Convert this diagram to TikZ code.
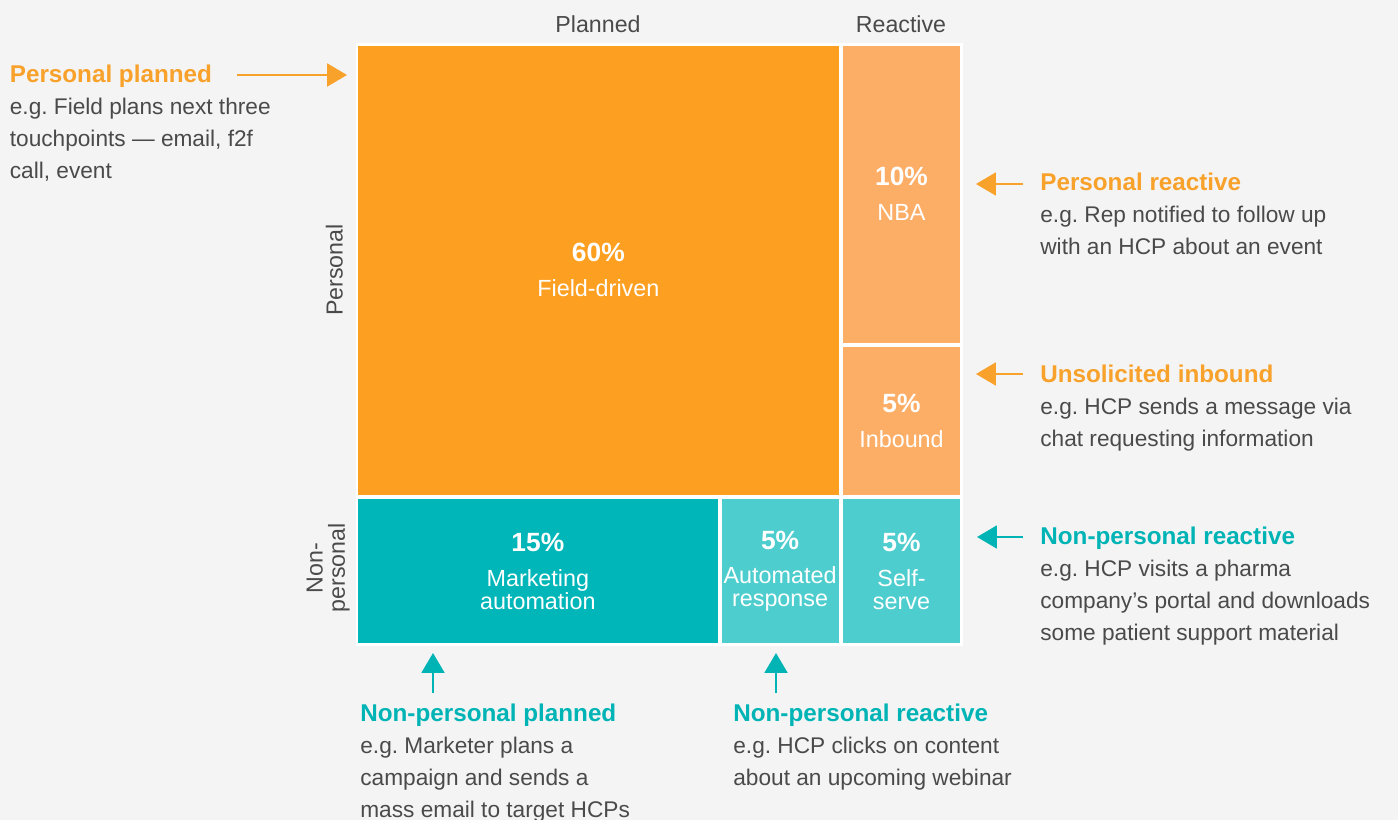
\documentclass[tikz,border=0pt]{standalone}
\usepackage{fontspec}
\setmainfont{Liberation Sans}
\usetikzlibrary{arrows.meta}
\frenchspacing
\definecolor{bg}{HTML}{F4F4F4}
\definecolor{orA}{HTML}{FDA021}
\definecolor{orB}{HTML}{FDAE66}
\definecolor{tlA}{HTML}{00B6B8}
\definecolor{tlB}{HTML}{4ECDCE}
\definecolor{orT}{HTML}{F8A12B}
\definecolor{tlT}{HTML}{00B4B6}
\definecolor{txt}{HTML}{4A4A4A}
\newcommand{\hd}[2]{{\fontsize{13.8}{18.14}\selectfont\bfseries\color{#1}#2}}
\newcommand{\pct}[1]{{\fontsize{15}{13}\selectfont\bfseries #1}}
\begin{document}
\begin{tikzpicture}[x=0.02cm, y=-0.02cm]
\tikzset{
  cell/.style={inner sep=0, text=white, align=center, font=\fontsize{13.3}{13}\selectfont},
  note/.style={inner sep=0, anchor=north west, align=left, text=txt, font=\fontsize{12.9}{18.14}\selectfont},
  axis/.style={inner sep=0, text=txt, font=\fontsize{13.2}{12.6}\selectfont},
  arr/.style={-{Triangle[length=11.3pt,width=13pt]}, line width=1.3pt}
}
\fill[bg] (0,0) rectangle (1398,820);
\useasboundingbox (0,0) rectangle (1398,820);
\fill[white] (355.5,42.7) rectangle (963,646);
\node[cell, fill=orA, minimum width=9.614cm, minimum height=8.99cm] (field) at (598.35,270.25) {\pct{60\%}\\[6.8pt]Field-driven};
\node[cell, fill=orB, minimum width=2.34cm, minimum height=5.944cm] (nba) at (901.5,194.1) {\pct{10\%}\\[6.8pt]NBA};
\node[cell, fill=orB, minimum width=2.34cm, minimum height=2.954cm] (inb) at (901.5,421.15) {\pct{5\%}\\[6.8pt]Inbound};
\node[cell, fill=tlA, minimum width=7.194cm, minimum height=2.886cm] (mkt) at (537.85,571.15) {\pct{15\%}\\[6.8pt]Marketing\\automation};
\node[cell, fill=tlB, minimum width=2.344cm, minimum height=2.886cm] (auto) at (780.1,571.15) {\pct{5\%}\\[6.8pt]Automated\\response};
\node[cell, fill=tlB, minimum width=2.34cm, minimum height=2.886cm] (self) at (901.5,571.15) {\pct{5\%}\\[6.8pt]Self-\\serve};
\node[axis, anchor=base] (plan) at (598,32.3) {Planned};
\node[axis, anchor=base] (react) at (901,32.3) {Reactive};
\node[axis, anchor=base, rotate=90] (pers) at (342.5,270) {Personal};
\node[axis, anchor=south, rotate=90, align=center] (npers) at (350,568) {Non-\\personal};
\node[note] (pp) at (9.5,65) {\hd{orT}{Personal planned}\\e.g. Field plans next three\\touchpoints — email, f2f\\call, event};
\node[note] (pr) at (1040,173) {\hd{orT}{Personal reactive}\\e.g. Rep notified to follow up\\with an HCP about an event};
\node[note] (ui) at (1040,365) {\hd{orT}{Unsolicited inbound}\\e.g. HCP sends a message via\\chat requesting information};
\node[note] (npr) at (1040,527) {\hd{tlT}{Non-personal reactive}\\e.g. HCP visits a pharma\\company’s portal and downloads\\some patient support material};
\node[note] (npp) at (360,704) {\hd{tlT}{Non-personal planned}\\e.g. Marketer plans a\\campaign and sends a\\mass email to target HCPs};
\node[note] (nprb) at (733,704) {\hd{tlT}{Non-personal reactive}\\e.g. HCP clicks on content\\about an upcoming webinar};
\coordinate (pp1) at (237,75);
\coordinate (pp2) at (347,75);
\coordinate (pr1) at (1023,184);
\coordinate (pr2) at (976,184);
\coordinate (ui1) at (1023,374);
\coordinate (ui2) at (976,374);
\coordinate (npr1) at (1023,537);
\coordinate (npr2) at (977,537);
\coordinate (npp1) at (433,693);
\coordinate (npp2) at (433,653);
\coordinate (nprb1) at (776,693);
\coordinate (nprb2) at (776,653);
\draw[arr, orT] (pp1) -- (pp2);
\draw[arr, orT] (pr1) -- (pr2);
\draw[arr, orT] (ui1) -- (ui2);
\draw[arr, tlT] (npr1) -- (npr2);
\draw[arr, tlT] (npp1) -- (npp2);
\draw[arr, tlT] (nprb1) -- (nprb2);
\end{tikzpicture}
\end{document}
